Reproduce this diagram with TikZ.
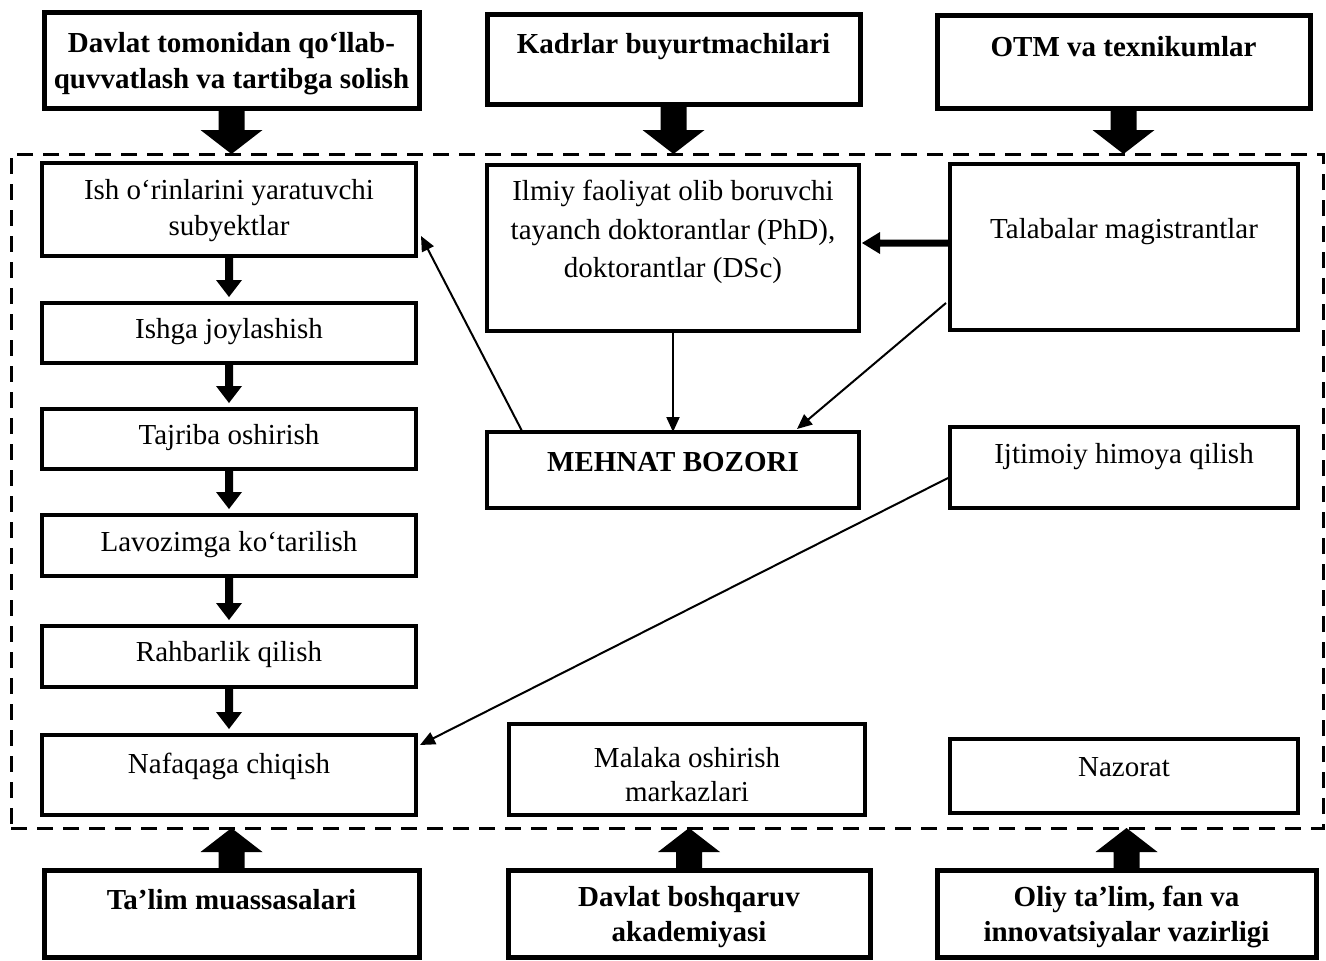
\documentclass[tikz,border=0pt]{standalone}
\usepackage{fontspec}
\setmainfont{Liberation Serif}
\usetikzlibrary{calc,arrows.meta}
\newcommand\vArrow[5]{\fill let \p1=(#1), \p2=(#2) in (\x2-#3,\y1) -- (\x2+#3,\y1) -- (\x2+#3,\y2+#5) -- (\x2+#4,\y2+#5) -- (\x2,\y2) -- (\x2-#4,\y2+#5) -- (\x2-#3,\y2+#5) -- cycle;}
\newcommand\mkbox[6]{\node[#1, minimum width={#4-#2}, minimum height={#5-#3}] (#6) at (#2,#3) {};}
\begin{document}
\begin{tikzpicture}[x=1pt,y=-1pt,
 box/.style={draw, line width=4.5pt, outer sep=0pt, inner sep=0pt, anchor=north west},
 bbox/.style={box, line width=5pt},
 txt/.style={font=\fontsize{29}{36}\selectfont, align=center, inner sep=0pt},
 btxt/.style={font=\fontsize{29}{36}\selectfont\bfseries, align=center, inner sep=0pt},
 conn/.style={line width=2pt, -{Triangle[length=15pt,width=13pt]}},
 dashframe/.style={draw, line width=3pt, dash pattern=on 16pt off 10pt, anchor=north west, outer sep=0pt, inner sep=0pt}]
\useasboundingbox (0,0) rectangle (1326,961);
\fill[white] (0,0) rectangle (1326,961);

\node[dashframe, minimum width=1312, minimum height=674] (fr) at (11,154) {};

% top boxes
\mkbox{bbox}{44}{12}{419}{108}{b1}
\mkbox{bbox}{487}{14}{860}{104}{b2}
\mkbox{bbox}{937}{15}{1310}{108}{b3}
% left column
\mkbox{box}{42}{163}{416}{256}{ish}
\mkbox{box}{42}{303}{416}{363}{ishga}
\mkbox{box}{42}{409}{416}{469}{tajr}
\mkbox{box}{42}{515}{416}{576}{lavoz}
\mkbox{box}{42}{626}{416}{687}{rahb}
\mkbox{box}{42}{735}{416}{815}{nafaq}
% middle
\mkbox{box}{487}{165}{859}{331}{ilmiy}
\mkbox{box}{487}{432}{859}{508}{mehnat}
\mkbox{box}{509}{724}{865}{815}{malaka}
% right
\mkbox{box}{950}{164}{1298}{330}{talab}
\mkbox{box}{950}{427}{1298}{508}{ijtim}
\mkbox{box}{950}{739}{1298}{813}{nazor}
% bottom
\mkbox{bbox}{44}{870}{419}{957}{talim}
\mkbox{bbox}{508}{870}{870}{957}{davb}
\mkbox{bbox}{937}{870}{1316}{957}{oliy}

% texts
\node[btxt] (tb1) at (231.5,64) {Davlat tomonidan qo‘llab-\\quvvatlash va tartibga solish};
\node[btxt] (tb2) at (673.5,47) {Kadrlar buyurtmachilari};
\node[btxt] (tb3) at (1123.5,47) {OTM va texnikumlar};
\node[txt] (tish) at (229,211) {Ish o‘rinlarini yaratuvchi\\subyektlar};
\node[txt] (tishga) at (229,332) {Ishga joylashish};
\node[txt] (ttajr) at (229,438) {Tajriba oshirish};
\node[txt] (tlav) at (229,545) {Lavozimga ko‘tarilish};
\node[txt] (trahb) at (229,655) {Rahbarlik qilish};
\node[txt] (tnaf) at (229,766) {Nafaqaga chiqish};
\node[txt, font=\fontsize{29}{38.5}\selectfont] (tilm) at (673,232) {Ilmiy faoliyat olib boruvchi\\tayanch doktorantlar (PhD),\\doktorantlar (DSc)};
\node[btxt] (tmeh) at (673,462) {MEHNAT BOZORI};
\node[txt, font=\fontsize{29}{34}\selectfont] (tmal) at (687,775) {Malaka oshirish\\markazlari};
\node[txt] (ttal) at (1124,232) {Talabalar magistrantlar};
\node[txt] (tijt) at (1124,457) {Ijtimoiy himoya qilish};
\node[txt] (tnaz) at (1124,767) {Nazorat};
\node[btxt] (ttalim) at (231.5,900) {Ta’lim muassasalari};
\node[btxt, font=\fontsize{29}{35}\selectfont\bfseries] (tdavb) at (689,917) {Davlat boshqaruv\\akademiyasi};
\node[btxt, font=\fontsize{29}{35}\selectfont\bfseries] (toliy) at (1126.5,917) {Oliy ta’lim, fan va\\innovatsiyalar vazirligi};

% big arrows
\vArrow{b1.south}{b1.south |- fr.north}{13pt}{31pt}{24pt}
\vArrow{b2.south}{b2.south |- fr.north}{13pt}{31pt}{24pt}
\vArrow{b3.south}{b3.south |- fr.north}{13pt}{31pt}{24pt}
\vArrow{talim.north}{talim.north |- fr.south}{13pt}{31pt}{-24pt}
\vArrow{davb.north}{davb.north |- fr.south}{13pt}{31pt}{-24pt}
\vArrow{oliy.north}{oliy.north |- fr.south}{13pt}{31pt}{-24pt}

% left column arrows
\vArrow{ish.south}{$(ishga.north)+(0,-6)$}{4pt}{13pt}{17pt}
\vArrow{ishga.south}{$(tajr.north)+(0,-6)$}{4pt}{13pt}{17pt}
\vArrow{tajr.south}{$(lavoz.north)+(0,-6)$}{4pt}{13pt}{17pt}
\vArrow{lavoz.south}{$(rahb.north)+(0,-6)$}{4pt}{13pt}{17pt}
\vArrow{rahb.south}{$(nafaq.north)+(0,-6)$}{4pt}{13pt}{17pt}

% talabalar -> ilmiy
\fill let \p1=($(talab.west)+(0,-4)$), \p2=(ilmiy.east) in
  (\x1,\y1+3.5pt) -- (\x2+21pt,\y1+3.5pt) -- (\x2+21pt,\y1+11pt) -- (\x2+3pt,\y1)
  -- (\x2+21pt,\y1-11pt) -- (\x2+21pt,\y1-3.5pt) -- (\x1,\y1-3.5pt) -- cycle;

% thin connectors
\draw[conn] (ilmiy.south) -- (mehnat.north);
\draw[conn] ($(talab.south west)+(-4,-27)$) -- ($(mehnat.north east)+(-62,-3)$);
\draw[conn] ($(mehnat.north west)+(35,-1)$) -- ($(ish.south east)+(5,-20)$);
\draw[conn] ($(ijtim.south west)+(-2,-30)$) -- ($(nafaq.north east)+(4,10)$);
\end{tikzpicture}
\end{document}
